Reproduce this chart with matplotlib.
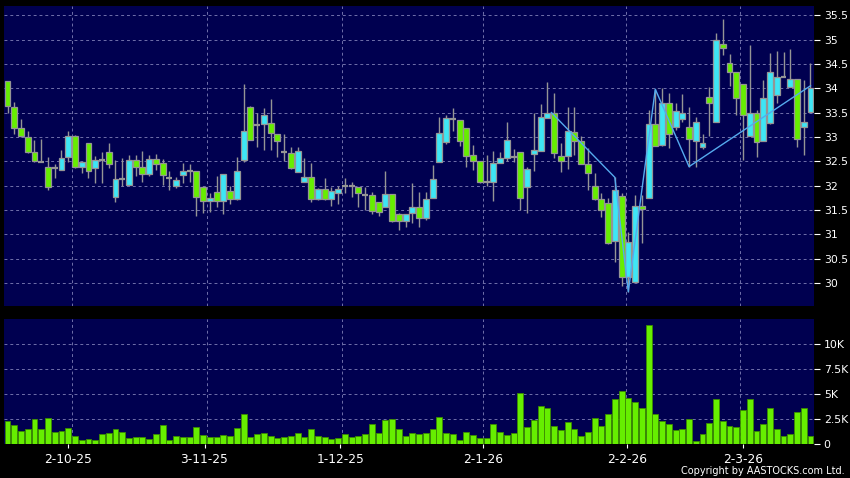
import numpy as np
import matplotlib
matplotlib.use("Agg")
import matplotlib.pyplot as plt
from matplotlib.ticker import FuncFormatter

# daily OHLC (HKD) and volume (thousand shares), one entry per trading day
opens = [34.14, 33.62, 33.18, 33.00, 32.68, 32.49, 32.39, 32.36, 32.33, 32.58,
         33.02, 32.38, 32.87, 32.36, 32.53, 32.68, 31.76, 32.14, 32.01, 32.53,
         32.39, 32.24, 32.54, 32.46, 32.16, 31.99, 32.22, 32.31, 32.30, 31.97,
         31.68, 31.86, 31.68, 31.88, 31.72, 32.53, 33.62, 33.24, 33.26, 33.28,
         33.05, 32.68, 32.66, 32.27, 32.07, 32.17, 31.73, 31.94, 31.73, 31.84,
         31.99, 31.99, 31.97, 31.81, 31.81, 31.66, 31.57, 31.82, 31.41, 31.27,
         31.43, 31.57, 31.33, 31.75, 32.48, 32.89, 33.37, 33.34, 33.18, 32.62,
         32.50, 32.07, 32.07, 32.46, 32.56, 32.58, 32.68, 31.98, 32.64, 32.72,
         33.38, 33.50, 32.61, 32.61, 33.11, 32.92, 32.44, 31.99, 31.72, 31.64,
         30.86, 31.79, 30.12, 30.03, 31.59, 31.74, 33.26, 32.83, 33.69, 33.20,
         33.37, 33.21, 32.92, 32.79, 33.81, 33.30, 34.91, 34.51, 34.33, 34.09,
         33.02, 33.50, 32.92, 33.28, 33.86, 34.24, 34.02, 34.19, 33.20, 33.52]
highs = [34.15, 33.71, 33.36, 33.12, 32.94, 32.96, 32.58, 32.45, 32.73, 33.12,
         33.03, 32.48, 32.87, 32.60, 32.70, 32.87, 32.53, 32.56, 32.63, 32.63,
         32.71, 32.63, 32.64, 32.55, 32.29, 32.18, 32.47, 32.45, 32.30, 31.97,
         31.84, 32.20, 32.23, 32.00, 32.59, 34.09, 33.63, 33.49, 33.59, 33.78,
         33.05, 33.07, 32.80, 32.80, 32.56, 32.46, 31.96, 32.15, 31.97, 31.99,
         32.15, 32.08, 31.97, 31.97, 31.87, 31.66, 32.29, 31.82, 31.44, 31.42,
         32.05, 31.87, 31.87, 32.42, 33.40, 33.45, 33.59, 33.34, 33.18, 32.83,
         32.50, 32.63, 32.72, 32.68, 33.30, 32.75, 32.68, 32.38, 33.50, 33.68,
         34.13, 33.91, 32.87, 33.62, 33.62, 33.02, 32.77, 32.25, 31.85, 31.74,
         32.17, 31.85, 31.05, 31.81, 31.81, 33.55, 33.98, 34.00, 33.90, 33.70,
         33.88, 33.62, 33.40, 33.07, 34.03, 35.14, 35.42, 34.70, 34.33, 34.09,
         34.89, 33.55, 34.17, 34.72, 34.76, 34.75, 34.80, 34.19, 34.17, 34.51]
lows = [33.50, 33.07, 33.00, 32.66, 32.49, 32.48, 31.90, 32.15, 32.33, 32.49,
        32.36, 32.25, 32.15, 32.06, 32.05, 32.36, 31.67, 32.00, 32.01, 32.20,
        32.08, 32.20, 32.32, 32.01, 31.92, 31.95, 32.05, 32.08, 31.38, 31.44,
        31.46, 31.57, 31.42, 31.62, 31.70, 32.48, 32.94, 32.79, 32.73, 32.73,
        32.58, 32.50, 32.35, 32.27, 32.07, 31.67, 31.70, 31.70, 31.58, 31.62,
        31.85, 31.77, 31.57, 31.50, 31.41, 31.37, 31.57, 31.25, 31.09, 31.15,
        31.24, 31.16, 31.30, 31.75, 32.48, 32.85, 33.12, 32.81, 32.39, 32.32,
        32.05, 31.99, 31.69, 32.46, 32.50, 32.48, 31.50, 31.43, 32.30, 32.72,
        33.38, 32.56, 32.27, 32.34, 32.63, 32.44, 31.91, 31.70, 31.36, 30.80,
        30.44, 29.94, 29.82, 30.03, 30.82, 31.74, 32.81, 32.82, 32.77, 33.15,
        33.30, 32.39, 32.39, 32.75, 33.02, 33.30, 34.68, 34.05, 33.46, 32.53,
        33.02, 32.59, 32.92, 33.26, 33.70, 34.24, 34.02, 32.80, 32.63, 33.52]
closes = [33.63, 33.18, 33.02, 32.68, 32.50, 32.49, 31.98, 32.36, 32.57, 33.02,
          32.38, 32.48, 32.31, 32.53, 32.53, 32.44, 32.13, 32.14, 32.53, 32.38,
          32.24, 32.54, 32.44, 32.21, 32.16, 32.11, 32.29, 32.31, 31.77, 31.68,
          31.75, 31.68, 32.23, 31.72, 32.31, 33.13, 32.94, 33.24, 33.45, 33.09,
          32.92, 32.68, 32.37, 32.72, 32.17, 31.73, 31.94, 31.73, 31.88, 31.93,
          31.99, 31.99, 31.85, 31.81, 31.48, 31.45, 31.82, 31.28, 31.27, 31.42,
          31.57, 31.33, 31.72, 32.13, 33.07, 33.38, 33.37, 32.92, 32.60, 32.50,
          32.07, 32.07, 32.46, 32.56, 32.94, 32.58, 31.74, 32.34, 32.73, 33.40,
          33.50, 32.66, 32.51, 33.12, 32.92, 32.44, 32.25, 31.72, 31.50, 30.82,
          31.92, 30.12, 30.85, 31.59, 31.51, 33.26, 32.81, 33.69, 33.05, 33.53,
          33.50, 32.95, 33.31, 32.87, 33.69, 34.99, 34.82, 34.33, 33.79, 33.45,
          33.50, 32.89, 33.80, 34.33, 34.24, 34.24, 34.19, 32.95, 33.31, 34.00]
volume_k = [2.27, 1.93, 1.30, 1.47, 2.53, 1.50, 2.57, 1.17, 1.27, 1.57,
            0.73, 0.37, 0.47, 0.40, 1.00, 1.03, 1.50, 1.20, 0.53, 0.70,
            0.70, 0.47, 0.97, 1.87, 0.33, 0.77, 0.67, 0.67, 1.70, 0.87,
            0.67, 0.67, 0.83, 0.77, 1.63, 3.03, 0.63, 1.00, 1.03, 0.77,
            0.57, 0.63, 0.77, 1.07, 0.67, 1.43, 0.77, 0.70, 0.43, 0.57,
            0.93, 0.67, 0.77, 0.97, 2.03, 1.03, 2.43, 2.53, 1.43, 0.77,
            1.03, 0.97, 1.10, 1.43, 2.67, 1.07, 1.00, 0.33, 1.17, 0.87,
            0.57, 0.53, 1.97, 1.13, 0.87, 1.07, 5.10, 1.73, 2.35, 3.76,
            3.62, 1.78, 1.38, 2.21, 1.44, 0.80, 1.17, 2.55, 1.78, 3.02,
            4.50, 5.27, 4.60, 4.19, 3.59, 11.90, 2.95, 2.28, 2.01, 1.34,
            1.48, 2.48, 0.23, 0.94, 2.08, 4.50, 2.32, 1.81, 1.64, 3.36,
            4.53, 1.31, 2.01, 3.56, 1.44, 0.77, 0.94, 3.15, 3.56, 0.80]

# zigzag overlay: (day index, price)
zigzag_idx = [80.6, 90, 92, 96, 101, 119]
zigzag_px = [33.50, 32.17, 29.82, 33.98, 32.39, 34.05]

date_labels = ["2-10-25", "3-11-25", "1-12-25", "2-1-26", "2-2-26", "2-3-26"]
date_ticks = [9.0, 29.2, 49.3, 70.5, 91.85, 109.0]
date_grid = [9.5, 29.5, 49.5, 70.5, 91.6, 108.5]

BG = "#000050"
UP = "#3ee6f5"
DOWN = "#66ee00"
EDGE = "#959595"
GRID = "#7070aa"

opens = np.array(opens)
highs = np.array(highs)
lows = np.array(lows)
closes = np.array(closes)
x = np.arange(len(opens))

fig = plt.figure(figsize=(8.5, 4.78), dpi=100, facecolor="black")
ax = fig.add_axes([4 / 850, 1 - 306 / 478, 810 / 850, 300 / 478])
axv = fig.add_axes([4 / 850, 1 - 443.7 / 478, 810 / 850, 124.7 / 478])

for a in (ax, axv):
    a.set_facecolor(BG)
    for s in a.spines.values():
        s.set_visible(False)
    a.set_xlim(-0.52, 119.52)
    a.grid(axis="y", color=GRID, linestyle=(0, (3, 3)), linewidth=0.7)
    for g in date_grid:
        a.axvline(g, color=GRID, linestyle=(0, (3, 3)), linewidth=0.7, zorder=0.5)
    a.set_axisbelow(True)
    a.yaxis.tick_right()
    a.tick_params(axis="y", colors="white", labelsize=7.8, length=4, width=0.8, pad=3)

# candles
ax.vlines(x, lows, highs, color=EDGE, linewidth=1, zorder=2)
up = closes > opens
down = closes < opens
flat = closes == opens
ax.bar(x[up], (closes - opens)[up], bottom=opens[up], width=0.88,
       color=UP, edgecolor=EDGE, linewidth=0.9, zorder=3)
ax.bar(x[down], (opens - closes)[down], bottom=closes[down], width=0.88,
       color=DOWN, edgecolor=EDGE, linewidth=0.9, zorder=3)
ax.hlines(closes[flat], x[flat] - 0.44, x[flat] + 0.44, color=EDGE, linewidth=1.6, zorder=3)

ax.plot(zigzag_idx, zigzag_px, color="#55aaee", linewidth=1, zorder=4)

ax.set_ylim(29.528, 35.688)
ax.set_yticks(np.arange(30, 35.51, 0.5))
ax.yaxis.set_major_formatter(FuncFormatter(lambda v, p: "%g" % v))
ax.set_xticks([])

# volume
axv.bar(x, volume_k, width=0.88, color=DOWN, edgecolor="#3c8c00", linewidth=0.6, zorder=3)
axv.set_ylim(0, 12.55)
axv.set_yticks([0, 2.5, 5, 7.5, 10])
axv.set_yticklabels(["0", "2.5K", "5K", "7.5K", "10K"])
axv.set_xticks(date_ticks)
axv.set_xticklabels(date_labels)
axv.tick_params(axis="x", colors="white", labelsize=8.8, length=3, width=0.8, pad=4)

fig.text(845 / 850, 1 - 471 / 478, "Copyright by AASTOCKS.com Ltd.", color="white",
         fontsize=7, ha="right", va="center")

fig.savefig("out.png", dpi=100, facecolor="black")
